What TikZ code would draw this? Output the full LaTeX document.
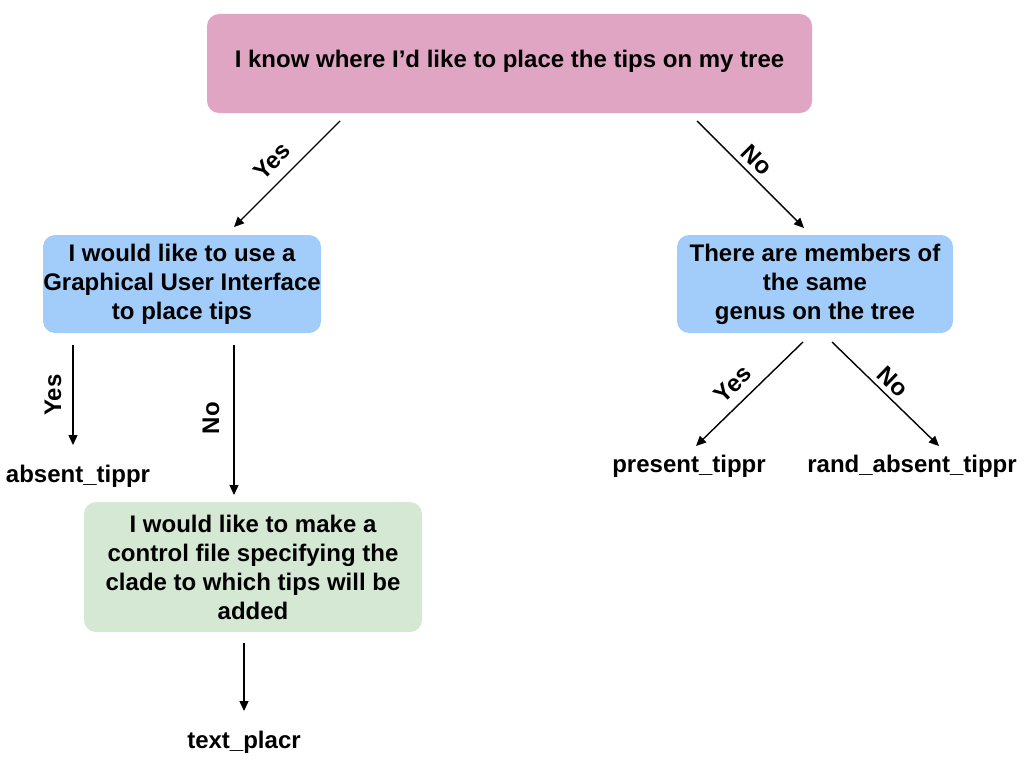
\documentclass[tikz,border=0pt]{standalone}
\usepackage{fontspec}
\setmainfont{Liberation Sans}
\usetikzlibrary{arrows.meta}
\definecolor{pinkbox}{RGB}{224,165,195}
\definecolor{bluebox}{RGB}{162,204,250}
\definecolor{greenbox}{RGB}{212,232,212}
\tikzset{
  box/.style={rounded corners=12pt, align=center, inner sep=0pt,
    font=\fontsize{24}{29}\selectfont\bfseries},
  leaf/.style={font=\fontsize{24}{29}\selectfont\bfseries, inner sep=0pt},
  lbl/.style={font=\fontsize{24}{29}\selectfont\bfseries, inner sep=0pt},
  arr/.style={line width=1.4pt, -{Triangle[length=10pt,width=9pt]}}
}
\begin{document}
\begin{tikzpicture}[x=1pt,y=-1pt]
\useasboundingbox (0,0) rectangle (1024,768);
% boxes
\node[box, fill=pinkbox, minimum width=605pt, minimum height=99pt,
  text depth=9pt] (top) at (509.5,63.5)
  {I know where I’d like to place the tips on my tree};
\node[box, fill=bluebox, minimum width=278pt, minimum height=98pt] (gui) at (182,284)
  {I would like to use a\\Graphical User Interface\\to place tips};
\node[box, fill=bluebox, minimum width=276pt, minimum height=98pt] (genus) at (815,284)
  {There are members of\\the same\\genus on the tree};
\node[box, fill=greenbox, minimum width=338pt, minimum height=130pt] (ctrl) at (253,567)
  {I would like to make a\\control file specifying the\\clade to which tips will be\\added};
% leaves
\node[leaf] (absent) at (78,476) {absent\_tippr};
\node[leaf] (present) at (689,466) {present\_tippr};
\node[leaf] (rand) at (912,466) {rand\_absent\_tippr};
\node[leaf] (textp) at (244,742) {text\_placr};
% connector ends
\coordinate (a1) at (340,121); \coordinate (a2) at (234,227);
\coordinate (b1) at (697,121); \coordinate (b2) at (804,228);
\coordinate (c1) at (73,345);  \coordinate (c2) at (73,445);
\coordinate (d1) at (234,345); \coordinate (d2) at (234,495);
\coordinate (e1) at (803,342); \coordinate (e2) at (696,446);
\coordinate (f1) at (832,342); \coordinate (f2) at (939,446);
\coordinate (g1) at (244,643); \coordinate (g2) at (244,711);
% connectors
\draw[arr] (a1) -- (a2);
\node[lbl, rotate=45] (ly1) at (272,161) {Yes};
\draw[arr] (b1) -- (b2);
\node[lbl, rotate=-45] (ln1) at (757,160) {No};
\draw[arr] (c1) -- (c2);
\node[lbl, rotate=90] (ly2) at (53,395) {Yes};
\draw[arr] (d1) -- (d2);
\node[lbl, rotate=90] (ln2) at (211,418) {No};
\draw[arr] (e1) -- (e2);
\node[lbl, rotate=44] (ly3) at (733,384) {Yes};
\draw[arr] (f1) -- (f2);
\node[lbl, rotate=-44] (ln3) at (893,382) {No};
\draw[arr] (g1) -- (g2);
\end{tikzpicture}
\end{document}
